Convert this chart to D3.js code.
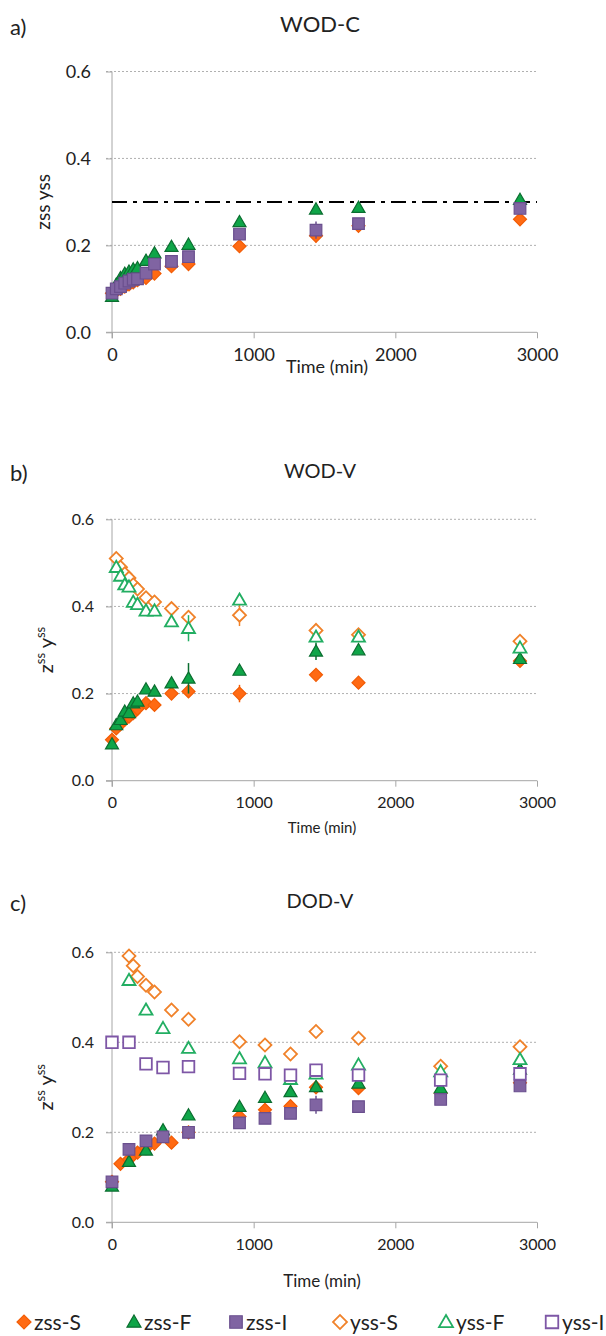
<!DOCTYPE html>
<html lang="en">
<head>
<meta charset="UTF-8">
<script src="https://cdn.jsdelivr.net/npm/d3@7"></script>
<style>
  body { margin:0; background:#fff; }
  svg { display:block; font-family: Lato, "Open Sans", sans-serif; }
</style>
</head>
<body>
<svg></svg>
<script>
// ---------- data ----------
var seriesNames = ["zss-S", "zss-F", "zss-I", "yss-S", "yss-F", "yss-I"];
var xTicks = [0, 1000, 2000, 3000];
var yTicks = [0, 0.2, 0.4, 0.6];

// a) WOD-C
var timeA = [0, 30, 60, 90, 120, 150, 180, 240, 300, 420, 540, 900, 1440, 1740, 2880];
var aZssS = [0.09, 0.095, 0.10, 0.105, 0.11, 0.115, 0.12, 0.125, 0.135, 0.152, 0.157, 0.198, 0.222, 0.245, 0.26];
var aZssF = [0.082, 0.11, 0.125, 0.135, 0.14, 0.145, 0.148, 0.165, 0.182, 0.197, 0.202, 0.254, 0.283, 0.287, 0.305];
var aZssI = [0.09, 0.10, 0.105, 0.113, 0.118, 0.122, 0.123, 0.136, 0.157, 0.163, 0.174, 0.226, 0.235, 0.25, 0.285];
var aErrS = [0, 0, 0, 0, 0, 0, 0, 0, 0, 0, 0, 0.006, 0.015, 0.01, 0];
var aErrI = [0, 0, 0, 0, 0, 0, 0, 0, 0, 0, 0, 0, 0.02, 0, 0];
var aLimit = 0.30;

// b) WOD-V
var timeB = [0, 30, 60, 90, 120, 150, 180, 240, 300, 420, 540, 900, 1440, 1740, 2880];
var bZssS = [0.094, 0.12, 0.13, 0.14, 0.147, 0.155, 0.165, 0.178, 0.174, 0.20, 0.205, 0.20, 0.243, 0.225, 0.275];
var bZssF = [0.084, 0.128, 0.14, 0.159, 0.156, 0.178, 0.182, 0.21, 0.205, 0.224, 0.235, 0.253, 0.297, 0.30, 0.28];
var bYssS = [null, 0.51, 0.49, 0.475, 0.465, 0.45, 0.44, 0.42, 0.41, 0.395, 0.375, 0.38, 0.345, 0.335, 0.32];
var bYssF = [null, 0.49, 0.47, 0.45, 0.445, 0.41, 0.405, 0.39, 0.39, 0.365, 0.35, 0.415, 0.33, 0.33, 0.305];
var bErrZssS = [0, 0, 0, 0, 0, 0, 0, 0, 0, 0, 0, 0.02, 0.008, 0, 0];
var bErrZssF = [0, 0, 0, 0, 0, 0, 0, 0, 0, 0, 0.035, 0, 0.02, 0, 0];
var bErrYssS = [0, 0, 0, 0, 0, 0, 0, 0, 0, 0, 0, 0.025, 0, 0, 0];
var bErrYssF = [0, 0, 0, 0, 0, 0, 0, 0, 0, 0, 0.03, 0, 0, 0, 0.01];

// c) DOD-V
var timeCS = [0, 60, 120, 150, 180, 240, 300, 420, 540, 900, 1080, 1260, 1440, 1740, 2320, 2880];
var timeCFI = [0, 120, 240, 360, 540, 900, 1080, 1260, 1440, 1740, 2320, 2880];
var cZssS = [0.09, 0.13, 0.14, 0.15, 0.155, 0.165, 0.175, 0.177, 0.20, 0.235, 0.25, 0.258, 0.30, 0.298, 0.287, 0.31];
var cYssS = [null, null, 0.592, 0.57, 0.546, 0.527, 0.512, 0.472, 0.451, 0.401, 0.394, 0.374, 0.424, 0.409, 0.347, 0.39];
var cZssF = [0.08, 0.135, 0.16, 0.205, 0.238, 0.257, 0.277, 0.29, 0.301, 0.309, 0.298, 0.34];
var cYssF = [null, 0.538, 0.472, 0.431, 0.387, 0.364, 0.355, 0.318, 0.33, 0.35, 0.335, 0.362];
var cZssI = [0.09, 0.162, 0.181, 0.19, 0.20, 0.221, 0.231, 0.242, 0.261, 0.257, 0.273, 0.303];
var cYssI = [0.40, 0.40, 0.352, 0.344, 0.346, 0.331, 0.33, 0.327, 0.338, 0.327, 0.316, 0.33];
var cErrYssF = [0, 0, 0, 0, 0, 0, 0.015, 0, 0.01, 0, 0.01, 0];
var cErrZssI = [0, 0, 0, 0, 0, 0, 0, 0, 0.02, 0, 0, 0];

// ---------- styles per series ----------
var styles = {
  "zss-S": {shape:"diamond",  fill:"#FF6A13", stroke:"#F25C05"},
  "zss-F": {shape:"triangle", fill:"#0FA548", stroke:"#0B6E30"},
  "zss-I": {shape:"square",   fill:"#8064A2", stroke:"#6A4F8E"},
  "yss-S": {shape:"diamond",  fill:"#fff",    stroke:"#F0822A"},
  "yss-F": {shape:"triangle", fill:"#fff",    stroke:"#22AE62"},
  "yss-I": {shape:"square",   fill:"#fff",    stroke:"#7E57A6"}
};

function pts(t, v, e) {
  var out = [];
  t.forEach(function(tt, i) {
    if (v[i] != null) out.push({t: tt, v: v[i], e: e ? e[i] : 0});
  });
  return out;
}

var panels = [
  {letter:"a)", title:"WOD-C", top:71.5, bottom:332.3, titleY:32, tick:18, pad:15, xlab:18, xlabDy:41, xlabX:327, sup:false,
   series:[["zss-S", pts(timeA, aZssS, aErrS)], ["zss-F", pts(timeA, aZssF)], ["zss-I", pts(timeA, aZssI, aErrI)]],
   limit:aLimit},
  {letter:"b)", title:"WOD-V", top:519.3, bottom:780.7, titleY:478, tick:16, pad:12, xlab:15, xlabDy:52, xlabX:322, sup:true,
   series:[["zss-S", pts(timeB, bZssS, bErrZssS)], ["zss-F", pts(timeB, bZssF, bErrZssF)],
           ["yss-S", pts(timeB, bYssS, bErrYssS)], ["yss-F", pts(timeB, bYssF, bErrYssF)]]},
  {letter:"c)", title:"DOD-V", top:952.3, bottom:1222.3, titleY:908, tick:16, pad:12, xlab:17, xlabDy:65, xlabX:322, sup:true,
   series:[["zss-S", pts(timeCS, cZssS)], ["zss-F", pts(timeCFI, cZssF)], ["zss-I", pts(timeCFI, cZssI, cErrZssI)],
           ["yss-S", pts(timeCS, cYssS)], ["yss-F", pts(timeCFI, cYssF, cErrYssF)], ["yss-I", pts(timeCFI, cYssI)]]}
];

var svg = d3.select("svg").attr("width", 606).attr("height", 1336);
var x = d3.scaleLinear().domain([0, 3000]).range([112, 537]);

function symbolPath(shape, s) {
  if (shape === "diamond") return d3.symbol(d3.symbolSquare, s * s * 0.5)();
  if (shape === "triangle") return d3.symbol(d3.symbolTriangle, 0.433 * s * s)();
  return d3.symbol(d3.symbolSquare, s * s * 0.8)();
}

function drawMarker(g, name, cx, cy, s) {
  var st = styles[name];
  g.append("path")
    .attr("d", symbolPath(st.shape, s))
    .attr("transform", "translate(" + cx + "," + cy + ")" + (st.shape === "diamond" ? " rotate(45)" : "")
          + (st.shape === "triangle" ? " translate(0," + (s * 0.08) + ")" : ""))
    .attr("fill", st.fill)
    .attr("stroke", st.stroke)
    .attr("stroke-width", st.fill === "#fff" ? 1.8 : 1.2);
}

panels.forEach(function(p) {
  var y = d3.scaleLinear().domain([0, 0.6]).range([p.bottom, p.top]);
  var g = svg.append("g");

  // letter + title
  g.append("text").attr("x", 10).attr("y", p.titleY + 3).attr("font-size", 22).attr("fill", "#222").text(p.letter);
  g.append("text").attr("x", 320).attr("y", p.titleY).attr("text-anchor", "middle")
    .attr("font-size", p.sup ? 20 : 22).attr("fill", "#222").text(p.title);

  // gridlines
  g.selectAll(".grid").data(yTicks.slice(1)).enter().append("line")
    .attr("x1", 106).attr("x2", 537)
    .attr("y1", function(d) { return y(d); }).attr("y2", function(d) { return y(d); })
    .attr("stroke", "#b0b0b0").attr("stroke-width", 1).attr("stroke-dasharray", "2,2");

  // y axis
  var yAxis = d3.axisLeft(y).tickValues(yTicks).tickFormat(d3.format(".1f")).tickSize(6).tickPadding(p.pad);
  var ya = g.append("g").attr("transform", "translate(112,0)").call(yAxis);
  ya.select(".domain").attr("stroke", "#a6a6a6").attr("d", "M0," + p.top + "V" + (p.bottom + 6));
  ya.selectAll(".tick line").attr("stroke", "#a6a6a6");
  ya.selectAll(".tick text").attr("font-size", p.tick).attr("fill", "#222").attr("font-family", "Lato, sans-serif");

  // x axis
  var xAxis = d3.axisBottom(x).tickValues(xTicks).tickFormat(d3.format("d")).tickSize(6).tickPadding(10);
  var xa = g.append("g").attr("transform", "translate(0," + p.bottom + ")").call(xAxis);
  xa.select(".domain").attr("stroke", "#a6a6a6").attr("d", "M106,0H537");
  xa.selectAll(".tick line").attr("stroke", "#a6a6a6");
  xa.selectAll(".tick text").attr("font-size", p.tick).attr("fill", "#222").attr("font-family", "Lato, sans-serif");

  g.append("text").attr("x", p.xlabX).attr("y", p.bottom + p.xlabDy).attr("text-anchor", "middle")
    .attr("font-size", p.xlab).attr("fill", "#222").text("Time (min)");

  // y label
  var yl = g.append("text")
    .attr("transform", "translate(" + (p.sup ? 53 : 50) + "," + ((p.top + p.bottom) / 2) + ") rotate(-90)")
    .attr("text-anchor", "middle").attr("font-size", p.sup ? 20 : 19).attr("fill", "#222");
  if (p.sup) {
    yl.append("tspan").text("z");
    yl.append("tspan").attr("font-size", 13).attr("dy", -8).text("ss");
    yl.append("tspan").attr("dy", 8).text(" y");
    yl.append("tspan").attr("font-size", 13).attr("dy", -8).text("ss");
  } else {
    yl.text("zss yss");
  }

  // limit line (panel a)
  if (p.limit != null) {
    g.append("line").attr("x1", x(0)).attr("x2", x(3000))
      .attr("y1", y(p.limit)).attr("y2", y(p.limit))
      .attr("stroke", "#000").attr("stroke-width", 2).attr("stroke-dasharray", "15,6,4,6");
  }

  // error bars + markers
  p.series.forEach(function(sr) {
    var name = sr[0], data = sr[1], st = styles[name];
    data.forEach(function(d) {
      if (d.e > 0) {
        g.append("line").attr("x1", x(d.t)).attr("x2", x(d.t))
          .attr("y1", y(d.v - d.e)).attr("y2", y(d.v + d.e))
          .attr("stroke", st.stroke).attr("stroke-width", 1.5);
      }
    });
    data.forEach(function(d) { drawMarker(g, name, x(d.t), y(d.v), 13); });
  });
});

// legend
var legX = [24, 134, 236, 340, 446, 552];
var leg = svg.append("g");
seriesNames.forEach(function(n, i) {
  drawMarker(leg, n, legX[i], 1322, 14);
  leg.append("text").attr("x", legX[i] + 10).attr("y", 1330).attr("font-size", 21).attr("fill", "#222").text(n);
});
</script>
</body>
</html>
